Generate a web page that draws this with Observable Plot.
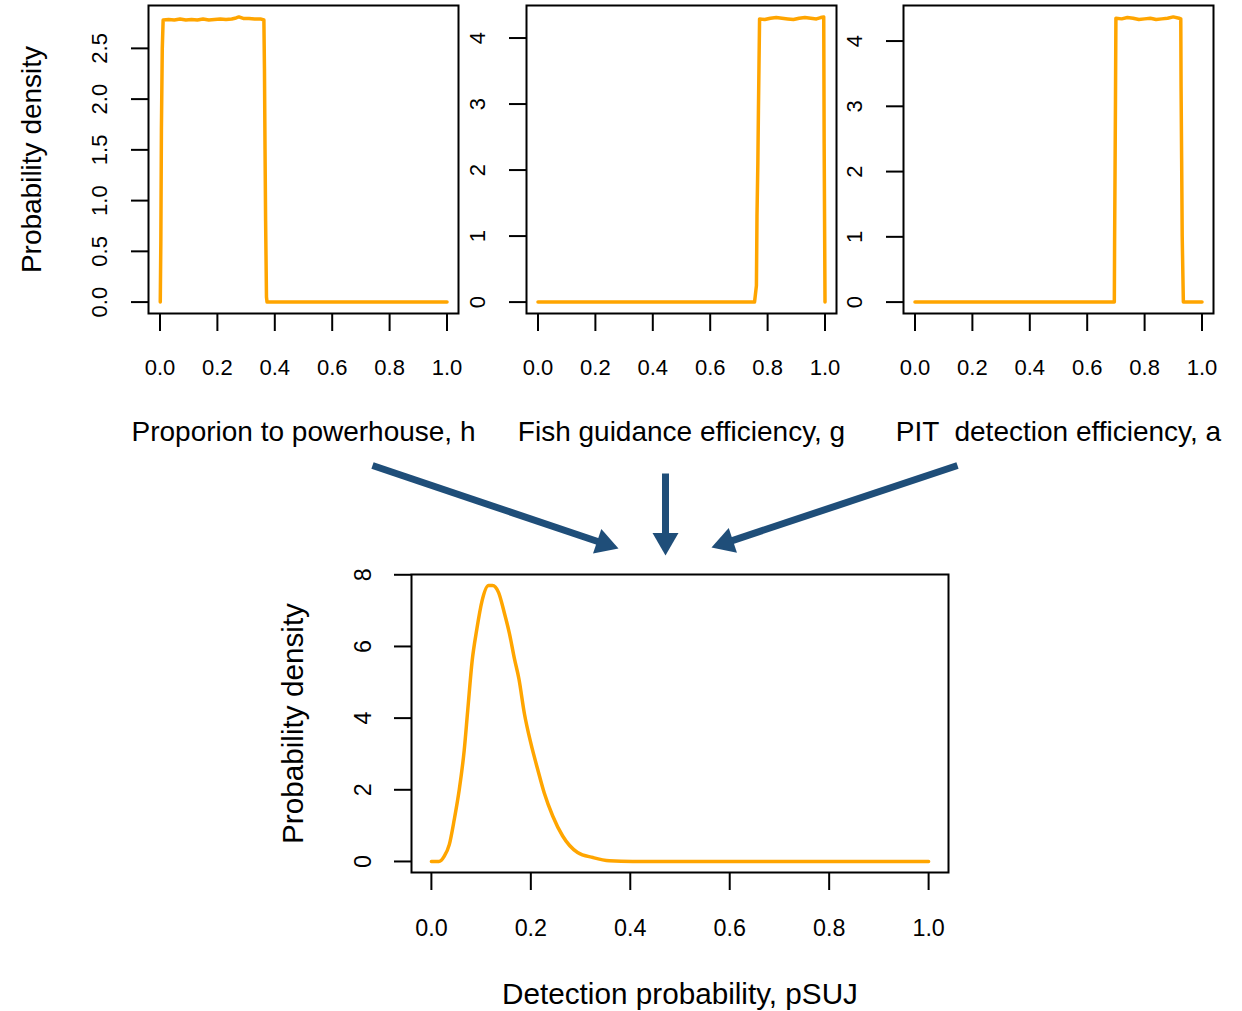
<!DOCTYPE html>
<html><head><meta charset="utf-8">
<script src="https://cdn.jsdelivr.net/npm/d3@7"></script>
<script src="https://cdn.jsdelivr.net/npm/@observablehq/plot@0.6"></script>
<style>
html,body{margin:0;padding:0;background:#fff;}
#chart{position:relative;width:1242px;height:1011px;}
#chart svg{position:absolute;left:0;top:0;}
#chart svg text{white-space:pre;}
</style></head><body><div id="chart"></div>
<script>
// ---- data ----
const xTicks = [0, 0.2, 0.4, 0.6, 0.8, 1.0];

// Proporion to powerhouse, h
const hX = [0.001, 0.003, 0.005, 0.008, 0.011, 0.03, 0.05, 0.07, 0.09, 0.11, 0.13, 0.15, 0.17, 0.19, 0.21, 0.23, 0.25, 0.265, 0.275, 0.29, 0.31, 0.33, 0.35, 0.362, 0.364, 0.366, 0.368, 0.371, 0.373, 0.5, 0.75, 1.0];
const hY = [0, 0.6, 1.7, 2.5, 2.78, 2.785, 2.78, 2.79, 2.78, 2.785, 2.78, 2.79, 2.78, 2.785, 2.79, 2.785, 2.79, 2.80, 2.81, 2.795, 2.795, 2.79, 2.79, 2.78, 2.3, 1.5, 0.8, 0.05, 0, 0, 0, 0];
const hTicks = [0, 0.5, 1.0, 1.5, 2.0, 2.5];

// Fish guidance efficiency, g
const gX = [0, 0.25, 0.5, 0.7545, 0.761, 0.763, 0.766, 0.768, 0.770, 0.772, 0.79, 0.81, 0.83, 0.85, 0.87, 0.89, 0.91, 0.93, 0.95, 0.97, 0.985, 0.9955, 0.997, 1.0];
const gY = [0, 0, 0, 0, 0.25, 1.3, 2.1, 2.9, 3.6, 4.29, 4.28, 4.30, 4.31, 4.30, 4.29, 4.28, 4.30, 4.31, 4.30, 4.29, 4.31, 4.32, 2.4, 0];
const gTicks = [0, 1, 2, 3, 4];

// PIT detection efficiency, a
const aX = [0, 0.25, 0.5, 0.6945, 0.6955, 0.697, 0.6985, 0.700, 0.72, 0.74, 0.76, 0.78, 0.80, 0.82, 0.84, 0.86, 0.88, 0.90, 0.92, 0.926, 0.927, 0.929, 0.931, 0.935, 0.97, 1.0];
const aY = [0, 0, 0, 0, 0.95, 2.0, 3.1, 4.35, 4.34, 4.36, 4.35, 4.33, 4.34, 4.35, 4.33, 4.34, 4.35, 4.37, 4.35, 4.34, 3.3, 2.2, 1.0, 0, 0, 0];
const aTicks = [0, 1, 2, 3, 4];

// Detection probability, pSUJ
const pX = [0, 0.015, 0.026, 0.036, 0.046, 0.056, 0.066, 0.073, 0.082, 0.091, 0.102, 0.115, 0.123, 0.135, 0.147, 0.157, 0.167, 0.176, 0.187, 0.2, 0.214, 0.227, 0.244, 0.264, 0.294, 0.325, 0.358, 0.405, 0.6, 0.8, 1.0];
const pY = [0, 0, 0.15, 0.47, 1.17, 2.0, 3.1, 4.2, 5.6, 6.45, 7.28, 7.7, 7.7, 7.51, 6.92, 6.36, 5.66, 5.1, 4.13, 3.3, 2.56, 1.91, 1.27, 0.71, 0.25, 0.11, 0.02, 0, 0, 0, 0];
const pTicks = [0, 2, 4, 6, 8];

const titles = ["Proporion to powerhouse, h", "Fish guidance efficiency, g", "PIT  detection efficiency, a", "Detection probability, pSUJ"];
const yLabel = "Probability density";

// annotation arrows (page pixels): start -> tip
const arrowX1 = [372, 665, 957];
const arrowY1 = [465, 473, 465];
const arrowX2 = [618, 665, 711];
const arrowY2 = [548, 555, 547];

// ---- layout & style ----
const W = 1242, H = 1011;
const FONT = '"Liberation Sans", Arial, Helvetica, sans-serif';
const ORANGE = "#FFA500";
const BLUE = "#1F4E79";
const chart = document.getElementById("chart");

function panel(xs, ys, frame, yTicks, yFmt, title, o) {
  const data = xs.map((x, i) => ({x, y: ys[i]}));
  const [l, t, r, b] = frame;
  const ymin = d3.min(ys), ymax = d3.max(ys), pad = 0.04 * (ymax - ymin);
  const marks = [
    Plot.axisX({ticks: xTicks, tickFormat: d3.format(".1f"), tickSize: 18, tickPadding: o.xPad, strokeWidth: 2, fontSize: o.tick, label: null}),
    Plot.axisY({ticks: yTicks, tickFormat: yFmt, tickSize: 17, tickPadding: o.yPad, tickRotate: -90, strokeWidth: 2, fontSize: o.tick, label: null}),
    Plot.line(data, {x: "x", y: "y", stroke: ORANGE, strokeWidth: 3.5, curve: o.curve}),
    Plot.frame({stroke: "black", strokeWidth: 2}),
    Plot.text([title], {frameAnchor: "bottom", dy: o.titleDy, fontSize: o.lab, fill: "black"})
  ];
  if (o.ylabel) marks.push(Plot.text([o.ylabel], {frameAnchor: "left", dx: o.yDx, rotate: -90, textAnchor: "middle", fontSize: o.lab, fill: "black"}));
  return Plot.plot({
    width: W, height: H,
    marginLeft: l, marginTop: t, marginRight: W - r, marginBottom: H - b,
    x: {domain: [-0.04, 1.04]},
    y: {domain: [ymin - pad, ymax + pad]},
    style: {background: "transparent", overflow: "visible", fontFamily: FONT, color: "black"},
    marks
  });
}

const topOpts = {tick: 22, lab: 28, xPad: 28, yPad: 25, titleDy: 127, yDx: -116, curve: "linear"};
const botOpts = {tick: 23.3, lab: 29.7, xPad: 29, yPad: 24, titleDy: 131, yDx: -118, curve: "monotone-x", ylabel: yLabel};
chart.append(panel(hX, hY, [148, 5, 458, 313], hTicks, d3.format(".1f"), titles[0], {...topOpts, ylabel: yLabel}));
chart.append(panel(gX, gY, [526, 5, 836, 313], gTicks, d3.format("d"), titles[1], topOpts));
chart.append(panel(aX, aY, [903, 5, 1213, 313], aTicks, d3.format("d"), titles[2], topOpts));
chart.append(panel(pX, pY, [411, 574, 948, 872], pTicks, d3.format("d"), titles[3], botOpts));

// arrows overlay
const HEAD = 7.5; // half-unit of triangle
const arrows = arrowX1.map((x1, i) => {
  const x2 = arrowX2[i], y1 = arrowY1[i], y2 = arrowY2[i];
  const dx = x2 - x1, dy = y2 - y1, len = Math.hypot(dx, dy);
  const ux = dx / len, uy = dy / len;
  return {
    x1, y1,
    sx: x2 - ux * 2.4 * HEAD, sy: y2 - uy * 2.4 * HEAD,
    cx: x2 - ux * 2 * HEAD, cy: y2 - uy * 2 * HEAD,
    angle: Math.atan2(dx, -dy) * 180 / Math.PI
  };
});
chart.append(Plot.plot({
  width: W, height: H, margin: 0,
  x: {domain: [0, W], range: [0, W], axis: null},
  y: {domain: [0, H], range: [0, H], axis: null},
  style: {background: "transparent", overflow: "visible"},
  marks: [
    Plot.link(arrows, {x1: "x1", y1: "y1", x2: "sx", y2: "sy", stroke: BLUE, strokeWidth: 7, strokeLinecap: "butt"}),
    Plot.dot(arrows, {x: "cx", y: "cy", symbol: "triangle", r: Math.sqrt(HEAD * HEAD * 3 * Math.sqrt(3) / Math.PI), fill: BLUE, stroke: "none", rotate: "angle"})
  ]
}));
</script>
</body></html>
